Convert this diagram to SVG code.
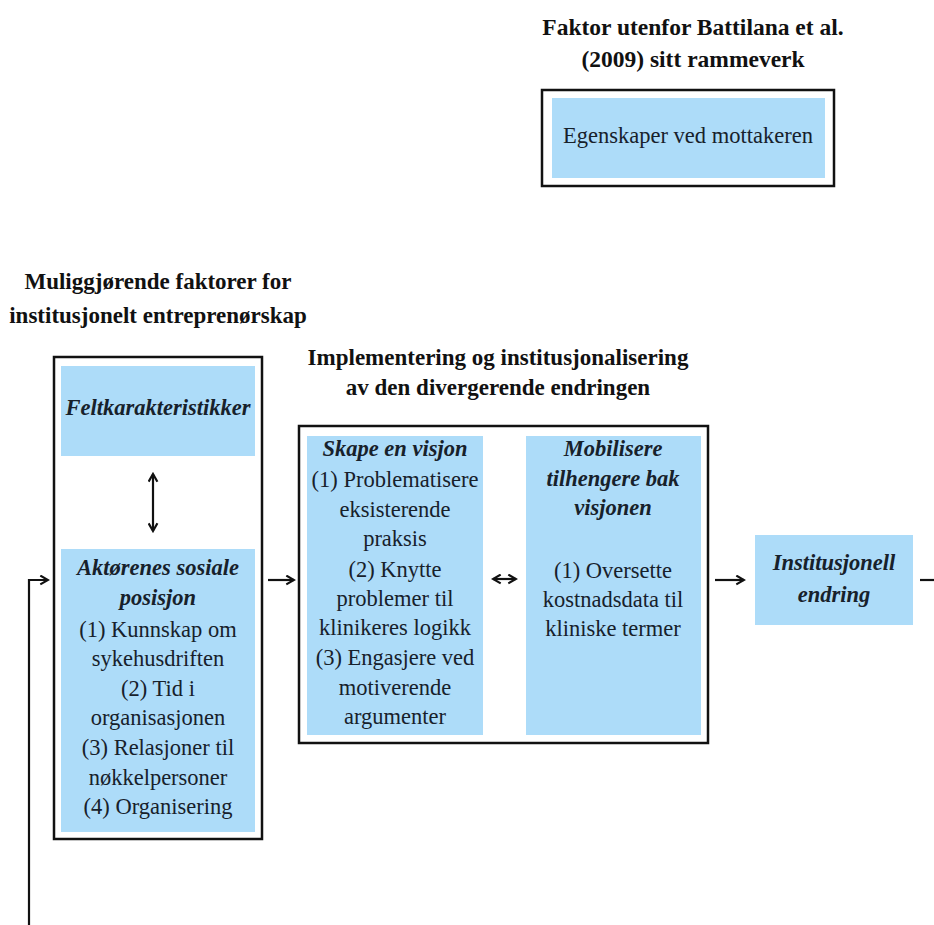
<svg xmlns="http://www.w3.org/2000/svg" width="934" height="925" viewBox="0 0 934 925" font-family="'Liberation Serif', 'DejaVu Serif', serif">
  <style>
    text { font-family: 'Liberation Serif', 'DejaVu Serif', serif; }
    .title { font-weight: bold; font-size: 23px; fill: #111; text-anchor: middle; }
    .body { font-size: 22.5px; fill: #17212b; text-anchor: middle; }
    .head { font-size: 22.5px; font-weight: bold; font-style: italic; fill: #17212b; text-anchor: middle; }
    .frame { fill: #fff; stroke: #111; stroke-width: 2.5; }
    .cell { fill: #addcf9; }
    .conn { fill: none; stroke: #111; stroke-width: 2.2; }
  </style>
  <defs>
    <marker id="head" viewBox="0 0 10 10" refX="8" refY="5" markerWidth="5" markerHeight="5" markerUnits="strokeWidth" orient="auto-start-reverse">
      <path d="M1,1 L8,5 L1,9" fill="none" stroke="#111" stroke-width="2"/>
    </marker>
  </defs>

  <rect width="934" height="925" fill="#fff"/>

  <!-- outside-framework factor -->
  <g id="receiver">
    <text class="title" x="693" y="35" style="font-size:23.5px">Faktor utenfor Battilana et al.</text>
    <text class="title" x="693" y="67" style="font-size:23.5px">(2009) sitt rammeverk</text>
    <rect class="frame" x="542" y="90" width="292" height="96"/>
    <rect class="cell" x="552" y="98" width="273" height="80"/>
    <text class="body" x="688" y="143">Egenskaper ved mottakeren</text>
  </g>

  <!-- enabling conditions -->
  <g id="enabling">
    <text class="title" x="158" y="289">Muliggjørende faktorer for</text>
    <text class="title" x="158" y="323">institusjonelt entreprenørskap</text>
    <rect class="frame" x="54" y="357" width="208" height="482"/>
  </g>
  <g id="field">
    <rect class="cell" x="61" y="366" width="194" height="90"/>
    <text class="head" x="158" y="415">Feltkarakteristikker</text>
  </g>
  <g id="position">
    <rect class="cell" x="61" y="549" width="194" height="283"/>
    <text class="head" x="158" y="575">Aktørenes sosiale</text>
    <text class="head" x="158" y="605">posisjon</text>
    <text class="body" x="158" y="637">(1) Kunnskap om</text>
    <text class="body" x="158" y="666">sykehusdriften</text>
    <text class="body" x="158" y="696">(2) Tid i</text>
    <text class="body" x="158" y="725">organisasjonen</text>
    <text class="body" x="158" y="755">(3) Relasjoner til</text>
    <text class="body" x="158" y="785">nøkkelpersoner</text>
    <text class="body" x="158" y="814">(4) Organisering</text>
  </g>

  <!-- implementation -->
  <g id="implementation">
    <text class="title" x="498" y="365">Implementering og institusjonalisering</text>
    <text class="title" x="498" y="395">av den divergerende endringen</text>
    <rect class="frame" x="299" y="426" width="409" height="317"/>
  </g>
  <g id="vision">
    <rect class="cell" x="307" y="436" width="176" height="299"/>
    <text class="head" x="395" y="456">Skape en visjon</text>
    <text class="body" x="395" y="487">(1) Problematisere</text>
    <text class="body" x="395" y="517">eksisterende</text>
    <text class="body" x="395" y="546">praksis</text>
    <text class="body" x="395" y="577">(2) Knytte</text>
    <text class="body" x="395" y="606">problemer til</text>
    <text class="body" x="395" y="635">klinikeres logikk</text>
    <text class="body" x="395" y="665">(3) Engasjere ved</text>
    <text class="body" x="395" y="695">motiverende</text>
    <text class="body" x="395" y="724">argumenter</text>
  </g>
  <g id="mobilise">
    <rect class="cell" x="526" y="436" width="175" height="299"/>
    <text class="head" x="613" y="456">Mobilisere</text>
    <text class="head" x="613" y="486">tilhengere bak</text>
    <text class="head" x="613" y="515">visjonen</text>
    <text class="body" x="613" y="578">(1) Oversette</text>
    <text class="body" x="613" y="607">kostnadsdata til</text>
    <text class="body" x="613" y="636">kliniske termer</text>
  </g>

  <!-- outcome -->
  <g id="change">
    <rect class="cell" x="755" y="535" width="158" height="90"/>
    <text class="head" x="834" y="570">Institusjonell</text>
    <text class="head" x="834" y="602">endring</text>
  </g>

  <!-- connectors -->
  <g id="connectors">
    <line class="conn" x1="153" y1="474" x2="153" y2="531" marker-start="url(#head)" marker-end="url(#head)"/>
    <line class="conn" x1="268" y1="580" x2="294" y2="580" marker-end="url(#head)"/>
    <line class="conn" x1="493" y1="579" x2="516" y2="579" marker-start="url(#head)" marker-end="url(#head)"/>
    <line class="conn" x1="715" y1="580" x2="744" y2="580" marker-end="url(#head)"/>
    <line class="conn" x1="920" y1="580" x2="934" y2="580"/>
    <polyline class="conn" points="29,925 29,580 48,580" marker-end="url(#head)"/>
  </g>
</svg>
